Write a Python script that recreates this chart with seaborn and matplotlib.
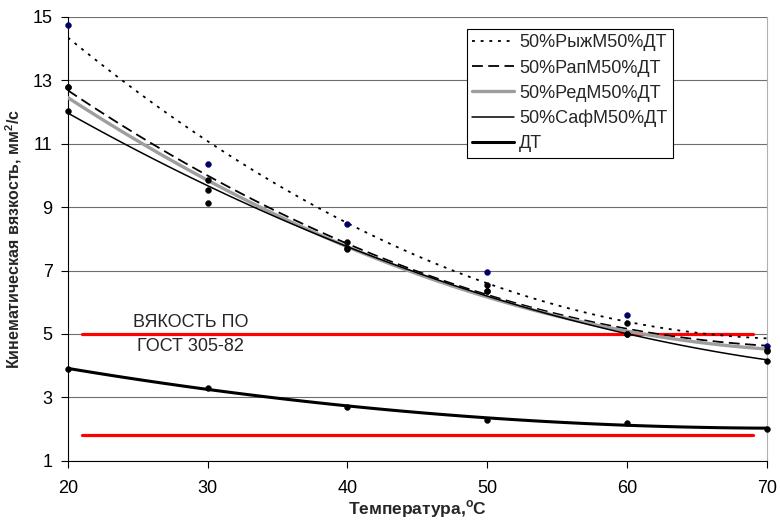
import pandas as pd
import matplotlib.pyplot as plt
import seaborn as sns

# Measured viscosity vs temperature for blends and diesel fuel
temperature = [20, 30, 40, 50, 60, 70]
ryzh = [14.75, 10.37, 8.48, 6.95, 5.60, 4.63]
rap = [12.80, 9.86, 7.70, 6.35, 5.35, 4.50]
red = [12.80, 9.14, 7.90, 6.55, 5.00, 4.45]
saf = [12.05, 9.55, 7.69, 6.35, 5.00, 4.15]
dt = [3.90, 3.30, 2.70, 2.30, 2.20, 2.00]

series_names = ["50%РыжМ50%ДТ", "50%РапМ50%ДТ", "50%РедМ50%ДТ", "50%СафМ50%ДТ", "ДТ"]

# GOST 305-82 viscosity limits
norm_x = [21, 69]
norm_upper = [5.0, 5.0]
norm_lower = [1.8, 1.8]

y_ticks = [1, 3, 5, 7, 9, 11, 13, 15]
x_ticks = [20, 30, 40, 50, 60, 70]

sns.set_style("white")
plt.rcParams["font.family"] = ["Liberation Sans", "DejaVu Sans"]

styles = {
    series_names[0]: dict(color="black", lw=1.3, ls=(0, (1.6, 3.2))),
    series_names[1]: dict(color="black", lw=1.3, ls=(0, (6, 3))),
    series_names[2]: dict(color="#9e9e9e", lw=2.4, ls="-"),
    series_names[3]: dict(color="black", lw=1.1, ls="-"),
    series_names[4]: dict(color="black", lw=2.2, ls="-"),
}
point_colors = ["#000066", "black", "black", "black", "black"]

df = pd.DataFrame({
    "temperature": temperature * 5,
    "viscosity": ryzh + rap + red + saf + dt,
    "series": [n for n in series_names for _ in temperature],
})

fig, ax = plt.subplots(figsize=(7.8, 5.23), dpi=100)
fig.subplots_adjust(left=0.087, right=0.983, top=0.9675, bottom=0.119)

# limit lines
for yy in (norm_upper, norm_lower):
    sns.lineplot(x=norm_x, y=yy, color="red", lw=2.3, ax=ax, zorder=2)

# quadratic trend lines (like the Excel trendline)
for name in series_names:
    sub = df[df["series"] == name]
    st = styles[name]
    sns.regplot(data=sub, x="temperature", y="viscosity", order=2, ci=None,
                scatter=False, ax=ax, label=name,
                line_kws=dict(color=st["color"], lw=st["lw"], ls=st["ls"], zorder=3))

# measured points
for name, pc in zip(series_names, point_colors):
    sub = df[df["series"] == name]
    sns.scatterplot(data=sub, x="temperature", y="viscosity", color=pc, s=18,
                    edgecolor=pc, linewidth=0.3, ax=ax, zorder=4, clip_on=False)

ax.text(28.8, 5.35, "ВЯКОСТЬ ПО", ha="center", va="center", fontsize=13)
ax.text(28.8, 4.6, "ГОСТ 305-82", ha="center", va="center", fontsize=13)

ax.set_xlim(20, 70)
ax.set_ylim(1, 15)
ax.set_xticks(x_ticks)
ax.set_yticks(y_ticks)
ax.tick_params(axis="both", labelsize=13, direction="out", length=5, width=0.8,
               colors="black", left=True, bottom=True)
ax.tick_params(axis="x", pad=9)
ax.tick_params(axis="y", pad=6)
ax.yaxis.grid(True, color="#6e6e6e", lw=0.8)
ax.set_axisbelow(True)

for s in ("left", "bottom"):
    ax.spines[s].set_color("black")
    ax.spines[s].set_linewidth(0.8)
ax.spines["top"].set_visible(False)
ax.spines["right"].set_color("#b0b0b0")
ax.spines["right"].set_linewidth(0.8)

ax.set_xlabel("Температура,$^\\mathregular{o}$С", fontsize=12.5, fontweight="bold", labelpad=1)
ax.set_ylabel("Кинематическая вязкость, мм$^\\mathregular{2}$/с", fontsize=11.5,
              fontweight="bold", labelpad=6)

handles, labels = ax.get_legend_handles_labels()
keep = [(h, l) for h, l in zip(handles, labels) if l in series_names]
leg = ax.legend([h for h, _ in keep], [l for _, l in keep],
                loc="upper left", bbox_to_anchor=(0.571, 0.973), borderaxespad=0,
                fontsize=13, frameon=True, fancybox=False, edgecolor="black",
                framealpha=1, handlelength=2.3, handletextpad=0.3,
                labelspacing=0.45, borderpad=0.3)
leg.get_frame().set_linewidth(0.8)

fig.savefig("out.png", dpi=100)
